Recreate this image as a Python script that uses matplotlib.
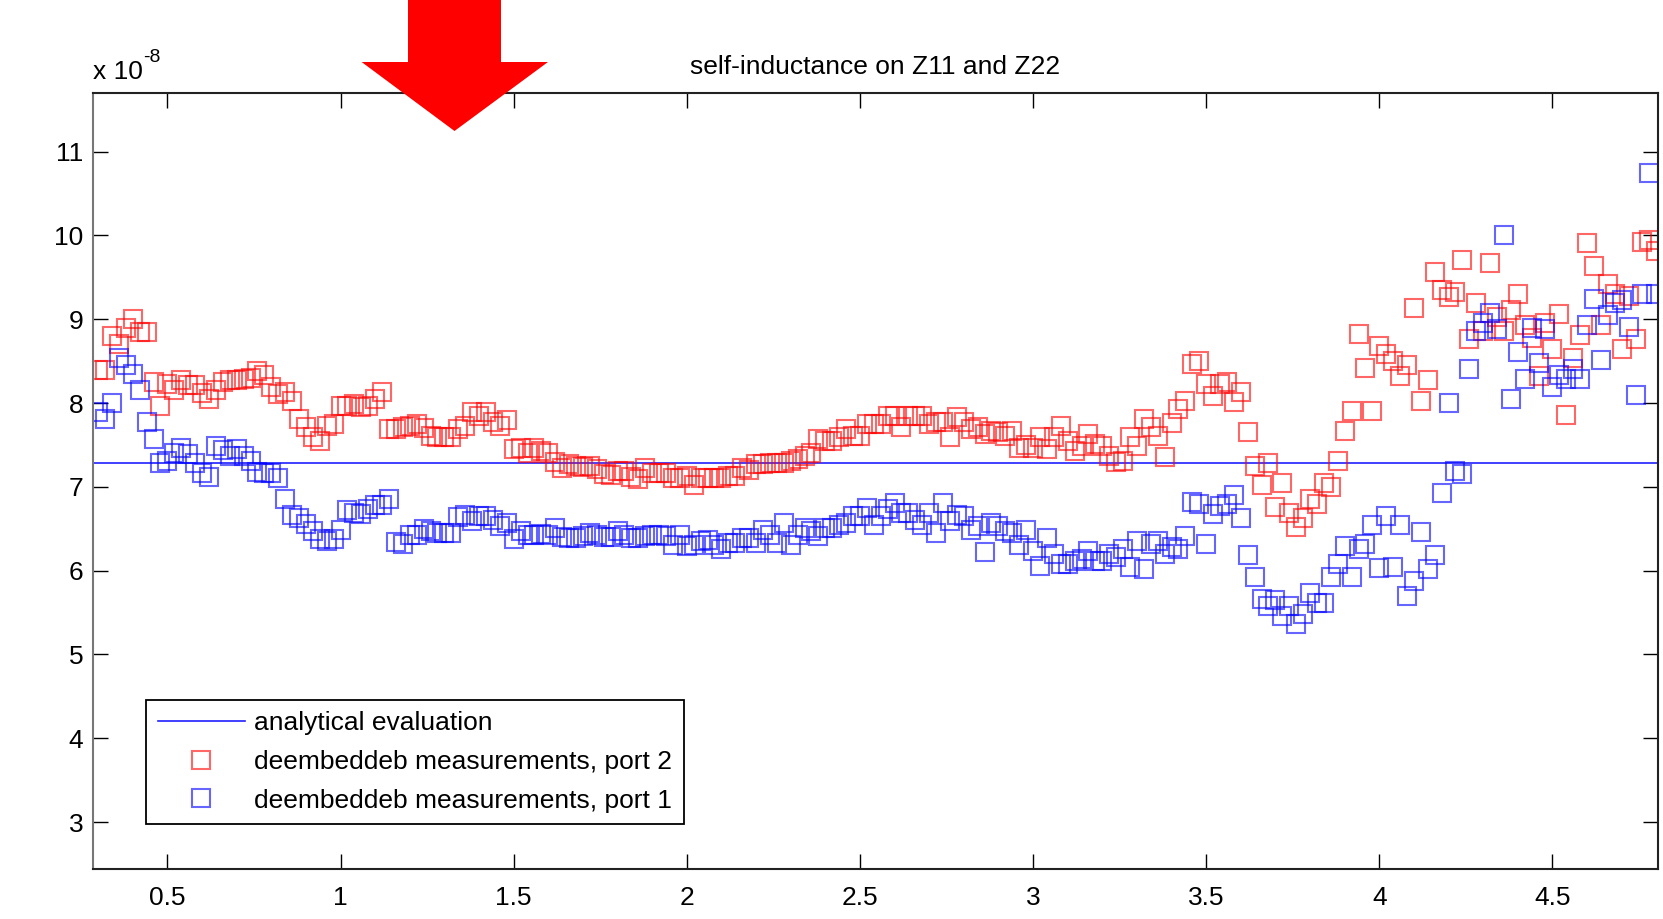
import numpy as np
import matplotlib.pyplot as plt
from matplotlib.patches import Polygon

plt.rcParams['font.family'] = ['Liberation Sans', 'DejaVu Sans']

# frequency sweep (GHz), one sample every 0.02
freq = np.round(0.30 + 0.02 * np.arange(226), 2)

# self-inductance, units of 1e-8 H
L_port2 = [
    8.39, 8.39, 8.80, 8.71, 8.90, 9.00, 8.85, 8.85, 8.25, 7.96,
    8.23, 8.15, 8.27, 8.22, 8.22, 8.12, 8.05, 8.15, 8.25, 8.28,
    8.28, 8.29, 8.30, 8.38, 8.34, 8.19, 8.11, 8.13, 8.03, 7.81,
    7.71, 7.59, 7.55, 7.73, 7.75, 7.97, 7.97, 7.99, 7.95, 7.97,
    8.05, 8.13, 7.69, 7.69, 7.71, 7.73, 7.75, 7.70, 7.61, 7.60,
    7.59, 7.59, 7.69, 7.73, 7.89, 7.85, 7.89, 7.78, 7.73, 7.80,
    7.45, 7.46, 7.41, 7.46, 7.43, 7.40, 7.30, 7.23, 7.27, 7.25,
    7.24, 7.25, 7.21, 7.15, 7.14, 7.19, 7.19, 7.12, 7.09, 7.23,
    7.17, 7.17, 7.17, 7.11, 7.11, 7.13, 7.02, 7.11, 7.11, 7.11,
    7.11, 7.13, 7.13, 7.23, 7.20, 7.27, 7.27, 7.29, 7.29, 7.29,
    7.31, 7.33, 7.37, 7.40, 7.57, 7.55, 7.55, 7.59, 7.69, 7.61,
    7.61, 7.75, 7.75, 7.75, 7.85, 7.85, 7.71, 7.85, 7.85, 7.85,
    7.75, 7.77, 7.77, 7.59, 7.83, 7.77, 7.69, 7.71, 7.63, 7.67,
    7.65, 7.61, 7.67, 7.46, 7.50, 7.46, 7.59, 7.45, 7.60, 7.73,
    7.55, 7.43, 7.49, 7.63, 7.51, 7.49, 7.37, 7.30, 7.31, 7.59,
    7.49, 7.81, 7.71, 7.61, 7.36, 7.76, 7.93, 8.03, 8.47, 8.50,
    8.23, 8.09, 8.23, 8.25, 8.01, 8.13, 7.66, 7.25, 7.02, 7.29,
    6.76, 7.05, 6.69, 6.52, 6.63, 6.85, 6.80, 7.05, 7.00, 7.31,
    7.67, 7.91, 8.83, 8.42, 7.91, 8.68, 8.59, 8.50, 8.32, 8.46,
    9.13, 8.03, 8.27, 9.57, 9.35, 9.27, 9.32, 9.71, 8.76, 9.20,
    8.86, 9.67, 9.03, 8.86, 9.11, 9.30, 8.93, 8.78, 8.32, 8.96,
    8.64, 9.06, 7.86, 8.54, 8.81, 9.91, 9.64, 8.93, 9.42, 9.30,
    8.64, 9.28, 8.76, 9.92, 9.94, 9.82,
]

L_port1 = [
    7.89, 7.81, 8.00, 8.54, 8.46, 8.35, 8.15, 7.78, 7.57, 7.29,
    7.31, 7.41, 7.46, 7.39, 7.29, 7.17, 7.12, 7.49, 7.44, 7.37,
    7.45, 7.37, 7.31, 7.18, 7.17, 7.17, 7.10, 6.85, 6.67, 6.63,
    6.56, 6.47, 6.38, 6.35, 6.38, 6.48, 6.72, 6.69, 6.68, 6.73,
    6.78, 6.78, 6.85, 6.34, 6.32, 6.43, 6.43, 6.50, 6.47, 6.45,
    6.45, 6.45, 6.64, 6.66, 6.59, 6.65, 6.65, 6.60, 6.53, 6.57,
    6.38, 6.47, 6.43, 6.43, 6.44, 6.43, 6.51, 6.40, 6.39, 6.39,
    6.41, 6.45, 6.43, 6.40, 6.40, 6.47, 6.43, 6.39, 6.39, 6.41,
    6.43, 6.43, 6.41, 6.31, 6.43, 6.30, 6.31, 6.35, 6.37, 6.31,
    6.26, 6.33, 6.33, 6.39, 6.39, 6.33, 6.49, 6.43, 6.33, 6.57,
    6.31, 6.43, 6.51, 6.47, 6.41, 6.51, 6.51, 6.55, 6.57, 6.65,
    6.65, 6.75, 6.55, 6.65, 6.73, 6.81, 6.69, 6.69, 6.60, 6.55,
    6.69, 6.45, 6.81, 6.59, 6.67, 6.65, 6.49, 6.53, 6.22, 6.57,
    6.53, 6.47, 6.45, 6.31, 6.49, 6.24, 6.06, 6.39, 6.20, 6.08,
    6.08, 6.12, 6.14, 6.24, 6.12, 6.12, 6.20, 6.16, 6.26, 6.04,
    6.36, 6.02, 6.32, 6.36, 6.20, 6.28, 6.26, 6.41, 6.82, 6.80,
    6.32, 6.68, 6.77, 6.79, 6.90, 6.63, 6.19, 5.93, 5.66, 5.58,
    5.65, 5.46, 5.58, 5.36, 5.48, 5.73, 5.61, 5.61, 5.92, 6.08,
    6.29, 5.92, 6.26, 6.32, 6.55, 6.03, 6.65, 6.04, 6.55, 5.70,
    5.88, 6.46, 6.02, 6.19, 6.93, 8.00, 7.19, 7.15, 8.41, 8.86,
    8.95, 9.08, 8.88, 10.01, 8.05, 8.61, 8.29, 8.90, 8.48, 8.88,
    8.19, 8.34, 8.29, 8.41, 8.29, 8.93, 9.24, 8.51, 9.05, 9.20,
    9.23, 8.91, 8.10, 9.30, 10.74, 9.30,
]

L_analytical = 7.29

x_ticks = [0.5, 1, 1.5, 2, 2.5, 3, 3.5, 4, 4.5]
x_tick_labels = ['0.5', '1', '1.5', '2', '2.5', '3', '3.5', '4', '4.5']
y_ticks = [3, 4, 5, 6, 7, 8, 9, 10, 11]

fig = plt.figure(figsize=(16.63, 9.19), dpi=100)
ax = fig.add_axes([0.0559, 0.0544, 0.9411, 0.8444])

ax.axhline(L_analytical, color='#2020ff', lw=1.2, label='analytical evaluation')
ax.plot(freq, L_port2, 's', mfc='none', mec='red', ms=12.3, mew=1.5, alpha=0.6,
        label='deembeddeb measurements, port 2')
ax.plot(freq, L_port1, 's', mfc='none', mec='blue', ms=12.3, mew=1.5, alpha=0.6,
        label='deembeddeb measurements, port 1')

ax.set_xlim(0.285, 4.805)
ax.set_ylim(2.44, 11.70)
ax.set_xticks(x_ticks)
ax.set_xticklabels(x_tick_labels)
ax.set_yticks(y_ticks)
ax.tick_params(direction='in', length=11, width=1, top=True, right=True,
               labelsize=19, colors='black')
ax.tick_params(axis='x', pad=12)
ax.tick_params(axis='y', pad=7)
for side in ['top', 'right', 'bottom']:
    ax.spines[side].set_color('#222222')
    ax.spines[side].set_linewidth(1.5)
ax.spines['left'].set_color('#777777')
ax.spines['left'].set_linewidth(1.5)

ax.set_title('self-inductance on Z11 and Z22', fontsize=19, pad=14)
# MATLAB style exponent label: plain hyphen, raised
ax.text(0.0, 1.012, 'x 10', transform=ax.transAxes, fontsize=19,
        ha='left', va='bottom')
ax.text(0.0318, 1.035, '-8', transform=ax.transAxes, fontsize=14,
        ha='left', va='bottom')

leg = ax.legend(loc='lower left', bbox_to_anchor=(0.0339, 0.0575),
                borderaxespad=0, fontsize=19, numpoints=1, handlelength=3.3,
                handletextpad=0.35, labelspacing=0.55, borderpad=0.45,
                fancybox=False, framealpha=1)
leg.get_frame().set_edgecolor('black')
leg.get_frame().set_linewidth(1.3)

# red marker arrow drawn on top of the figure (pixel coords from top-left)
arrow_px = [(408, 0), (501, 0), (501, 62), (548, 62), (454.5, 131),
            (361.6, 62), (408, 62)]
W, H = 1663, 919
arrow = Polygon([(x / W, 1 - y / H) for x, y in arrow_px], closed=True,
                facecolor='#ff0000', edgecolor='none',
                transform=fig.transFigure, zorder=10)
fig.add_artist(arrow)

fig.savefig('out.png', dpi=100)
